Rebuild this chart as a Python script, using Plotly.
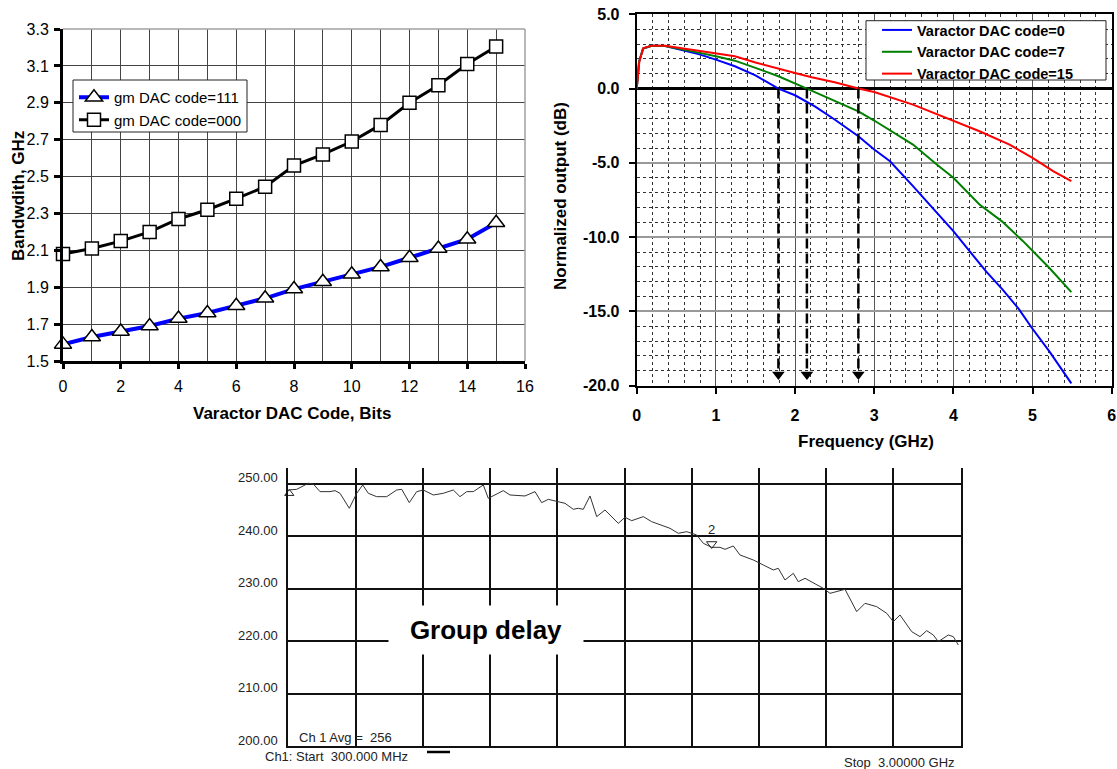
import plotly.graph_objects as go

W, H = 1117, 769
FONT = "Liberation Sans, Arial, sans-serif"

# ---------------- Top-left: bandwidth vs varactor DAC code ----------------
dac_code = list(range(16))
bw_gm111 = [1.59, 1.63, 1.66, 1.69, 1.73, 1.76, 1.80, 1.84, 1.89, 1.93, 1.97, 2.01, 2.06, 2.11, 2.16, 2.25]
bw_gm000 = [2.08, 2.11, 2.15, 2.20, 2.27, 2.32, 2.38, 2.445, 2.56, 2.62, 2.69, 2.78, 2.90, 2.995, 3.11, 3.205]
bw_xticks = [0, 2, 4, 6, 8, 10, 12, 14, 16]

# ---------------- Top-right: normalized output vs frequency ----------------
freq_code0 = [0, 0.03, 0.08, 0.19, 0.36, 0.61, 0.78, 1.0, 1.24, 1.5, 1.79, 2.0, 2.25, 2.5, 2.8, 3.0,
              3.2, 3.49, 3.7, 4.0, 4.41, 4.62, 4.83, 4.99, 5.21, 5.49]
out_code0 = [0, 1.8, 2.7, 2.88, 2.86, 2.55, 2.32, 1.95, 1.5, 0.89, 0.0, -0.45, -1.2, -2.08, -3.21, -4.10,
             -4.89, -6.57, -7.80, -9.6, -12.29, -13.52, -14.86, -16.1, -17.67, -19.84]
freq_code7 = [0, 0.03, 0.08, 0.19, 0.36, 0.61, 0.78, 1.0, 1.24, 1.5, 1.79, 2.15, 2.5, 2.8, 3.0,
              3.49, 3.79, 4.0, 4.33, 4.61, 4.88, 5.0, 5.21, 5.49]
out_code7 = [0, 1.8, 2.7, 2.88, 2.87, 2.62, 2.42, 2.17, 1.88, 1.39, 0.83, 0.0, -0.81, -1.53, -2.15,
             -3.77, -5.11, -6.0, -7.8, -8.92, -10.27, -10.94, -12.06, -13.70]
freq_code15 = [0, 0.034, 0.085, 0.19, 0.36, 0.61, 0.78, 1.0, 1.24, 1.5, 1.79, 2.0, 2.21, 2.5, 2.8, 3.0,
               3.49, 4.0, 4.33, 4.71, 5.0, 5.26, 5.49]
out_code15 = [0, 1.84, 2.73, 2.89, 2.89, 2.69, 2.55, 2.35, 2.17, 1.75, 1.37, 1.05, 0.76, 0.42, 0.0, -0.23,
              -1.08, -2.15, -2.87, -3.77, -4.67, -5.56, -6.23]
cutoff_freq = [1.79, 2.15, 2.80]
arrow_bottom = -19.25
resp_yticks = [5, 0, -5, -10, -15, -20]
resp_yticktext = ["5.0", "0.0", "-5.0", "-10.0", "-15.0", "-20.0"]

# ---------------- Bottom: group delay ----------------
gd_freq_mhz = [300, 333.6, 380.3, 400.4, 427.3, 467.5, 487.5, 507.6, 545.0, 574.7, 598.7, 621.3, 654.8,
               695.0, 735.3, 755.4, 785.9, 815.6, 842.1, 882.3, 922.4, 962.6, 989.5, 1016.4, 1042.9,
               1083.0, 1103.1, 1130.0, 1163.3, 1190.2, 1230.4, 1250.5, 1290.6, 1317.5, 1344.0, 1364.1,
               1411.1, 1444.4, 1464.5, 1484.6, 1511.5, 1538.4, 1571.7, 1625.1, 1652.0, 1678.9, 1725.5,
               1759.2, 1832.7, 1866.0, 1899.8, 1939.9, 1966.4, 2000.2, 2033.5, 2053.6, 2086.9, 2113.8,
               2167.2, 2207.4, 2247.5, 2267.6, 2294.5, 2327.8, 2347.9, 2374.8, 2448.3, 2475.2, 2502.1,
               2535.4, 2582.4, 2615.8, 2662.7, 2702.9, 2729.4, 2756.3, 2803.3, 2836.6, 2863.5, 2890.0,
               2910.1, 2950.2, 2970.3, 2990.4]
gd_delay = [248.85, 248.98, 250.13, 250.0, 248.54, 248.54, 248.73, 248.22, 245.36, 248.22, 249.81, 248.22,
            247.58, 247.58, 248.85, 248.98, 246.44, 248.54, 248.85, 247.90, 248.22, 248.85, 247.58, 248.54,
            248.54, 249.81, 247.26, 247.90, 248.73, 247.90, 247.71, 247.71, 248.54, 246.44, 247.07, 246.82,
            246.31, 245.17, 245.36, 245.17, 247.71, 243.77, 245.04, 242.49, 243.64, 243.00, 243.77,
            242.81, 241.54, 240.59, 240.90, 240.27, 238.68, 237.91, 237.91, 237.53, 238.17, 236.45,
            235.50, 234.54, 233.59, 233.91, 231.68, 232.95, 231.36, 232.0, 230.09, 229.13, 229.45,
            229.90, 225.64, 227.23, 226.59, 225.32, 223.73, 225.0, 221.82, 220.87, 222.01, 221.18,
            219.91, 221.18, 220.87, 219.27]
gd_yticks = [200, 210, 220, 230, 240, 250]
marker2_freq, marker2_delay = 2000, 238.55
marker1_freq, marker1_delay = 304, 248.2
ref_freq, ref_level = 287, 250


def px(x):
    return x / W


def py(y):
    return 1 - y / H


fig = go.Figure()

# ---- top-left traces
fig.add_trace(go.Scatter(
    x=dac_code, y=bw_gm111, mode="lines+markers", name="gm DAC code=111",
    line=dict(color="#0000FF", width=4),
    marker=dict(symbol="triangle-up", size=15, color="white", line=dict(color="black", width=1.5)),
    xaxis="x", yaxis="y", legend="legend", cliponaxis=False))
fig.add_trace(go.Scatter(
    x=dac_code, y=bw_gm000, mode="lines+markers", name="gm DAC code=000",
    line=dict(color="black", width=3),
    marker=dict(symbol="square", size=13, color="white", line=dict(color="black", width=1.5)),
    xaxis="x", yaxis="y", legend="legend", cliponaxis=False))

# ---- top-right traces
for fx, fy, col, nm in [(freq_code0, out_code0, "#0000FF", "Varactor DAC code=0"),
                        (freq_code7, out_code7, "#008000", "Varactor DAC code=7"),
                        (freq_code15, out_code15, "#FF0000", "Varactor DAC code=15")]:
    fig.add_trace(go.Scatter(x=fx, y=fy, mode="lines", name=nm,
                             line=dict(color=col, width=2),
                             xaxis="x2", yaxis="y2", legend="legend2"))

for f in cutoff_freq:
    fig.add_trace(go.Scatter(x=[f, f], y=[0, arrow_bottom + 0.4], mode="lines",
                             line=dict(color="black", width=2.5, dash="10px,5px"),
                             xaxis="x2", yaxis="y2", showlegend=False, hoverinfo="skip"))
fig.add_trace(go.Scatter(x=cutoff_freq, y=[arrow_bottom] * len(cutoff_freq), mode="markers",
                         marker=dict(symbol="triangle-down", size=11, color="black"),
                         xaxis="x2", yaxis="y2", showlegend=False, hoverinfo="skip"))

# ---- bottom trace
fig.add_trace(go.Scatter(x=gd_freq_mhz, y=gd_delay, mode="lines",
                         line=dict(color="#333333", width=1),
                         xaxis="x3", yaxis="y3", showlegend=False))
fig.add_trace(go.Scatter(x=[marker2_freq], y=[marker2_delay], mode="markers+text", text=["2"],
                         textposition="top center", textfont=dict(family=FONT, size=13, color="#222"),
                         marker=dict(symbol="triangle-down-open", size=9, color="#222", line=dict(width=1)),
                         xaxis="x3", yaxis="y3", showlegend=False))
fig.add_trace(go.Scatter(x=[marker1_freq], y=[marker1_delay], mode="markers",
                         marker=dict(symbol="triangle-up-open", size=8, color="#222", line=dict(width=1)),
                         xaxis="x3", yaxis="y3", showlegend=False, cliponaxis=False))
fig.add_trace(go.Scatter(x=[ref_freq], y=[ref_level], mode="markers",
                         marker=dict(symbol="triangle-right", size=9, color="black"),
                         xaxis="x3", yaxis="y3", showlegend=False, cliponaxis=False))

annotations = []
for v in gd_yticks:
    annotations.append(dict(x=px(280), xref="paper", y=v, yref="y3", xanchor="right", yanchor="middle",
                            text=f"{v:.2f}", showarrow=False, yshift=6,
                            font=dict(family=FONT, size=13, color="#222")))

C = dict(xanchor="center", yanchor="middle", showarrow=False, xref="paper", yref="paper")
annotations += [
    dict(x=px(18), y=py(196), text="Bandwdith, GHz", textangle=-90,
         font=dict(family=FONT, size=17, color="black", weight="bold"), **C),
    dict(x=px(292), y=py(413), text="Varactor DAC Code, Bits",
         font=dict(family=FONT, size=17, color="black", weight="bold"), **C),
    dict(x=px(560), y=py(196), text="Normalized output (dB)", textangle=-90,
         font=dict(family=FONT, size=17, color="black", weight="bold"), **C),
    dict(x=px(866), y=py(441), text="Frequency (GHz)",
         font=dict(family=FONT, size=17, color="black", weight="bold"), **C),
    dict(x=px(486), y=py(630), text="Group delay", bgcolor="white", width=192, height=46,
         font=dict(family=FONT, size=26, color="black", weight="bold"), **C),
    dict(x=px(297), y=py(737), xref="paper", yref="paper", xanchor="left", yanchor="middle", showarrow=False,
         text="Ch 1 Avg =\u00a0\u00a0256", font=dict(family=FONT, size=13, color="#222")),
    dict(x=px(263), y=py(756), xref="paper", yref="paper", xanchor="left", yanchor="middle", showarrow=False,
         text="Ch1: Start\u00a0\u00a0300.000 MHz", font=dict(family=FONT, size=13, color="#222")),
    dict(x=px(957), y=py(762), xref="paper", yref="paper", xanchor="right", yanchor="middle", showarrow=False,
         text="Stop\u00a0\u00a03.00000 GHz", font=dict(family=FONT, size=13, color="#222")),
]

shapes = [
    # light border top/right of top-left chart
    dict(type="line", xref="x domain", yref="y domain", x0=0, x1=1, y0=1, y1=1,
         line=dict(color="#A0A0A0", width=1.5)),
    dict(type="line", xref="x domain", yref="y domain", x0=1, x1=1, y0=0, y1=1,
         line=dict(color="#A0A0A0", width=1.5)),
    # legend boxes
    dict(type="rect", xref="paper", yref="paper", x0=px(73), x1=px(247), y0=py(132), y1=py(80),
         fillcolor="white", line=dict(color="#222", width=1), layer="above"),
    dict(type="rect", xref="paper", yref="paper", x0=px(866), x1=px(1106), y0=py(80), y1=py(20.7),
         fillcolor="white", line=dict(color="#222", width=1), layer="above"),
    # small dash after start label in bottom chart
    dict(type="line", xref="paper", yref="paper", x0=px(427), x1=px(450), y0=py(752), y1=py(752),
         line=dict(color="black", width=2.5)),
]

tick_font = dict(family=FONT, size=16, color="black")
bold_tick = dict(family=FONT, size=16, color="black", weight="bold")

fig.update_layout(
    template="none",
    width=W, height=H, margin=dict(l=0, r=0, t=0, b=0, pad=0, autoexpand=False),
    paper_bgcolor="white", plot_bgcolor="white",
    font=dict(family=FONT),
    xaxis=dict(domain=[px(63), px(525)], anchor="y", range=[0, 16], tickvals=bw_xticks, automargin=False,
               ticks="outside", ticklen=5, tickwidth=2.5, tickcolor="black", ticklabelstandoff=4,
               showline=True, linecolor="black", linewidth=3, zeroline=False,
               showgrid=True, gridcolor="#444", gridwidth=1, tickfont=tick_font,
               minor=dict(dtick=1, showgrid=True, gridcolor="#444", gridwidth=1)),
    yaxis=dict(domain=[py(361), py(29)], anchor="x", range=[1.5, 3.3001], tick0=1.5, dtick=0.2,
               automargin=False,
               tickformat=".1f", ticks="outside", ticklen=6, tickwidth=2.5, tickcolor="black",
               ticklabelstandoff=2,
               showline=True, linecolor="black", linewidth=3, zeroline=False,
               showgrid=True, gridcolor="#444", gridwidth=1, tickfont=tick_font),
    xaxis2=dict(domain=[px(636.7), px(1111.7)], anchor="y2", range=[0, 6], dtick=1, automargin=False,
                ticks="outside", ticklen=6, tickwidth=1.5, tickcolor="black", ticklabelstandoff=8,
                showline=True, mirror=True, linecolor="black", linewidth=2, zeroline=False,
                showgrid=True, gridcolor="#555", gridwidth=1, tickfont=bold_tick,
                minor=dict(dtick=0.2, showgrid=True, gridcolor="#333", griddash="dot", gridwidth=1)),
    yaxis2=dict(domain=[py(385.7), py(14.3)], anchor="x2", range=[-20, 5], automargin=False,
                tickvals=resp_yticks, ticktext=resp_yticktext,
                ticks="outside", ticklen=6, tickwidth=1.5, tickcolor="black", ticklabelstandoff=6,
                showline=True, mirror=True, linecolor="black", linewidth=2,
                zeroline=True, zerolinecolor="black", zerolinewidth=3,
                showgrid=True, gridcolor="#999", gridwidth=2, tickfont=bold_tick,
                minor=dict(dtick=1, tick0=0, showgrid=True, gridcolor="#333", griddash="dot", gridwidth=1)),
    xaxis3=dict(domain=[px(288.3), px(960.7)], anchor="y3", range=[300, 3000], tick0=300, dtick=270,
                automargin=False,
                showticklabels=False, ticks="", showline=True, linecolor="#111", linewidth=1.5,
                zeroline=False, showgrid=True, gridcolor="#111", gridwidth=1.5),
    yaxis3=dict(domain=[py(746), py(468)], anchor="x3", range=[200, 253.05], tick0=200, dtick=10,
                automargin=False,
                showticklabels=False, ticks="", showline=True, mirror=True, linecolor="#111",
                linewidth=1.5, zeroline=False, showgrid=True, gridcolor="#111", gridwidth=1.5),
    legend=dict(x=px(74), y=py(81), xanchor="left", yanchor="top", bgcolor="rgba(0,0,0,0)",
                borderwidth=0, font=dict(family=FONT, size=15, color="black"),
                itemwidth=30, tracegroupgap=0),
    legend2=dict(x=px(877), y=py(14), xanchor="left", yanchor="top", bgcolor="rgba(0,0,0,0)",
                 borderwidth=0,
                 font=dict(family=FONT, size=14.5, color="black", weight="bold"),
                 itemwidth=30, tracegroupgap=0),
    annotations=annotations,
    shapes=shapes,
    showlegend=True,
    hovermode=False,
)

fig.write_html("out.html", config={"displayModeBar": False},
               post_script="document.body.style.margin='0';")
